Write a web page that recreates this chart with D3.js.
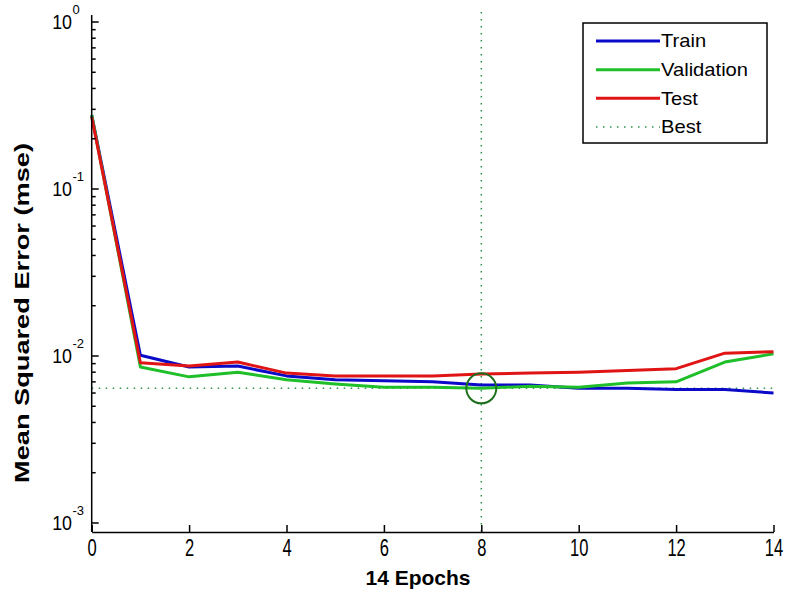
<!DOCTYPE html>
<html>
<head>
<meta charset="utf-8">
<script src="https://cdn.jsdelivr.net/npm/d3@7"></script>
<style>
  body { margin: 0; background: #fff; }
  svg { display: block; }
  text { font-family: "Liberation Sans", Arial, Helvetica, sans-serif; fill: #000; }
</style>
</head>
<body>
<svg id="chart" width="787" height="592"></svg>
<script>
// ---- data ----
const epochs = [0,1,2,3,4,5,6,7,8,9,10,11,12,13,14];
const train      = [0.277,0.0101,0.0086,0.0087,0.0076,0.0072,0.0071,0.0070,0.0067,0.0067,0.0064,0.0064,0.0063,0.0063,0.0060];
const validation = [0.277,0.0086,0.0075,0.0080,0.0072,0.0068,0.0065,0.0065,0.0064,0.0066,0.0065,0.0069,0.0070,0.0092,0.0103];
const test       = [0.270,0.0091,0.0087,0.0092,0.0079,0.0076,0.0076,0.0076,0.0078,0.0079,0.0080,0.0082,0.0084,0.0104,0.0106];
const bestEpoch = 8;
const bestValue = 0.0064;
const xTicks = [0,2,4,6,8,10,12,14];
const yTickExps = [0,-1,-2,-3];
const seriesNames = ["Train","Validation","Test"];
const seriesColors = ["#0a0ac8","#1fbf2a","#e01414"];
const bestColor = "#2f8f4f";
const xLabel = "14 Epochs";
const yLabel = "Mean Squared Error  (mse)";

// ---- layout ----
const svg = d3.select("#chart");
const x = d3.scaleLinear().domain([0,14]).range([91.7, 773.5]);
const y = d3.scaleLog().domain([Math.pow(10,-3.054), Math.pow(10,0.042)]).range([532, 15]);

// Best dotted lines
svg.append("line")
  .attr("x1", x(bestEpoch)).attr("x2", x(bestEpoch))
  .attr("y1", y.range()[1] - 3).attr("y2", y.range()[0])
  .attr("stroke", bestColor).attr("stroke-width", 1.5)
  .attr("stroke-dasharray", "1.5,5.5");
svg.append("line")
  .attr("x1", x.range()[0]).attr("x2", x.range()[1])
  .attr("y1", y(bestValue)).attr("y2", y(bestValue))
  .attr("stroke", bestColor).attr("stroke-width", 1.5)
  .attr("stroke-dasharray", "1.5,5.5");

// Series lines
const line = d3.line().x((d,i) => x(epochs[i])).y(d => y(d));
[train, validation, test].forEach((s, k) => {
  svg.append("path").datum(s)
    .attr("d", line)
    .attr("fill", "none")
    .attr("stroke", seriesColors[k])
    .attr("stroke-width", 3)
    .attr("stroke-linejoin", "round");
});

// Best circle
svg.append("circle")
  .attr("cx", x(bestEpoch)).attr("cy", y(bestValue)).attr("r", 15)
  .attr("fill", "none").attr("stroke", "#1d6e1d").attr("stroke-width", 2);

// X axis
const xAxis = svg.append("g")
  .attr("transform", `translate(0,${y.range()[0]})`)
  .call(d3.axisBottom(x).tickValues(xTicks).tickSize(-7).tickPadding(8).tickSizeOuter(0));
xAxis.select(".domain").attr("stroke", "#000").attr("stroke-width", 1.5);
xAxis.selectAll(".tick line").attr("stroke", "#000").attr("stroke-width", 1.5);
xAxis.selectAll(".tick text")
  .attr("font-size", 23)
  .attr("font-family", "Liberation Sans, Arial, sans-serif")
  .attr("fill", "#222")
  .attr("transform", "scale(0.72,1)");

// Y axis line
svg.append("line")
  .attr("x1", x.range()[0]).attr("x2", x.range()[0])
  .attr("y1", y.range()[1]).attr("y2", y.range()[0])
  .attr("stroke", "#000").attr("stroke-width", 1.5);

// Y major ticks + labels
yTickExps.forEach(e => {
  const v = Math.pow(10, e);
  svg.append("line")
    .attr("x1", x.range()[0]).attr("x2", x.range()[0] + 7)
    .attr("y1", y(v)).attr("y2", y(v))
    .attr("stroke", "#000").attr("stroke-width", 1.5);
  svg.append("text")
    .attr("x", 72).attr("y", y(v) + 7)
    .attr("text-anchor", "end")
    .attr("font-size", 21)
    .attr("fill", "#222")
    .attr("transform", `translate(72,0) scale(0.85,1) translate(-72,0)`)
    .text("10");
  svg.append("text")
    .attr("x", 72.5).attr("y", y(v) - 8)
    .attr("text-anchor", "start")
    .attr("font-size", 13)
    .attr("fill", "#222")
    .text(String(e));
});

// Y minor ticks
[-3,-2,-1].forEach(e => {
  for (let m = 2; m <= 9; m++) {
    const v = m * Math.pow(10, e);
    svg.append("line")
      .attr("x1", x.range()[0]).attr("x2", x.range()[0] + 4)
      .attr("y1", y(v)).attr("y2", y(v))
      .attr("stroke", "#000").attr("stroke-width", 1.5);
  }
});

// Axis titles
svg.append("text")
  .attr("x", 418).attr("y", 585)
  .attr("text-anchor", "middle")
  .attr("font-size", 21).attr("font-weight", "bold")
  .text(xLabel);
svg.append("text")
  .attr("transform", "translate(29,313) rotate(-90)")
  .attr("text-anchor", "middle")
  .attr("font-size", 21).attr("font-weight", "bold")
  .attr("textLength", 340).attr("lengthAdjust", "spacingAndGlyphs")
  .text(yLabel);

// Legend
const lg = svg.append("g");
lg.append("rect")
  .attr("x", 583).attr("y", 23).attr("width", 184).attr("height", 120)
  .attr("fill", "#fff").attr("stroke", "#000").attr("stroke-width", 1.5);
const legendItems = seriesNames.map((n,i) => ({name:n, color:seriesColors[i], dotted:false}))
  .concat([{name:"Best", color:bestColor, dotted:true}]);
const rowY = d3.scalePoint().domain(legendItems.map(d => d.name)).range([41, 127]);
legendItems.forEach(d => {
  const ly = rowY(d.name);
  lg.append("line")
    .attr("x1", 596).attr("x2", 660).attr("y1", ly).attr("y2", ly)
    .attr("stroke", d.color)
    .attr("stroke-width", d.dotted ? 1.5 : 3)
    .attr("stroke-dasharray", d.dotted ? "1.5,5.5" : null);
  lg.append("text")
    .attr("x", 661).attr("y", ly + 6.5)
    .attr("font-size", 18)
    .attr("transform", "translate(661,0) scale(1.12,1) translate(-661,0)")
    .text(d.name);
});
</script>
</body>
</html>
